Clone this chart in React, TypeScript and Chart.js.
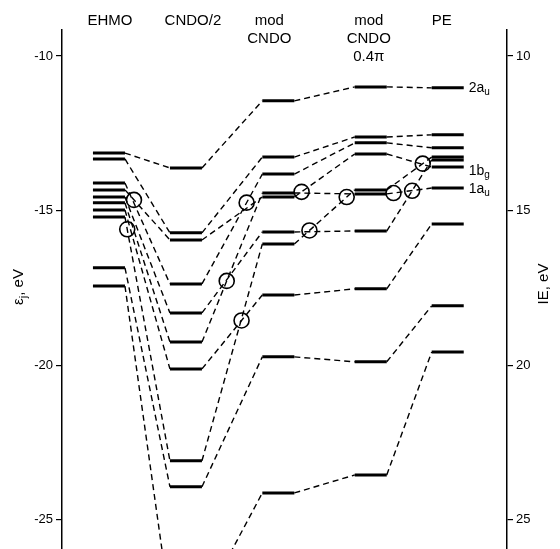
import React, { useEffect, useRef } from "react";
import { Chart, registerables } from "chart.js";

Chart.register(...registerables);

// ---- data (eV) ----
const COLUMN_LABELS: string[][] = [["EHMO"], ["CNDO/2"], ["mod", "CNDO"], ["mod", "CNDO", "0.4π"], ["PE"]];
const EHMO = [-13.14, -13.33, -14.11, -14.33, -14.56, -14.75, -14.98, -15.21, -16.85, -17.44];
const CNDO2 = [-13.62, -15.72, -15.95, -17.37, -18.31, -19.25, -20.12, -23.09, -23.93, -27.8];
const MOD_CNDO = [-11.45, -13.27, -13.82, -14.43, -14.56, -15.69, -16.08, -17.73, -19.73, -24.13];
const MOD_CNDO_04PI = [-11.0, -12.62, -12.81, -13.17, -14.33, -14.46, -15.66, -17.53, -19.89, -23.55];
const PE = [-11.03, -12.55, -12.97, -13.27, -13.36, -13.59, -14.27, -15.43, -18.08, -19.57];

// correlation links: for stage s, level i of column s -> level LINKS[s][i] of column s+1
const LINKS_EHMO_CNDO2 = [0, 1, 3, 2, 4, 5, 6, 7, 8, 9];
const LINKS_CNDO2_MOD = [0, 1, 4, 2, 5, 3, 7, 6, 8, 9];
const LINKS_MOD_MOD04 = [0, 1, 2, 5, 3, 6, 4, 7, 8, 9];
const LINKS_MOD04_PE = [0, 1, 2, 5, 3, 6, 4, 7, 8, 9];

// circled crossings: [stage, source level index, fraction along the link]
const CIRCLE_STAGE = [0, 0, 1, 1, 1, 2, 2, 2, 3, 3, 3];
const CIRCLE_LEVEL = [3, 7, 3, 5, 6, 4, 6, 6, 5, 6, 4];
const CIRCLE_FRAC = [0.2, 0.05, 0.74, 0.41, 0.656, 0.12, 0.25, 0.867, 0.15, 0.565, 0.8];

// PE level labels
const PE_LABEL_INDEX = [0, 5, 6];
const PE_LABEL_MAIN = ["2a", "1b", "1a"];
const PE_LABEL_SUB = ["u", "g", "u"];

const Y_TICKS_LEFT = [-10, -15, -20, -25];
const Y_TICKS_RIGHT = [10, 15, 20, 25];

// ---- layout ----
const COLUMNS = [EHMO, CNDO2, MOD_CNDO, MOD_CNDO_04PI, PE];
const LINKS = [LINKS_EHMO_CNDO2, LINKS_CNDO2_MOD, LINKS_MOD_MOD04, LINKS_MOD04_PE];
const COL_POS = [0, 1, 2.2, 3.4, 4.4];
const HALF = 0.208;
const X_MIN = -0.61;
const X_MAX = 5.17;
const Y_MIN = -25.94;
const Y_MAX = -9.16;
const LABEL_DX = [1, 7, -9, -2, -6];
const LABEL_DY = [0, 4, 1];
const FONT = '"Liberation Sans", Arial, sans-serif';

function drawParts(ctx: CanvasRenderingContext2D, parts: [string, boolean][], size: number, x: number, y: number, align: "left" | "center") {
  const subSize = Math.round(size * 0.72);
  let total = 0;
  for (const [t, sub] of parts) {
    ctx.font = `${sub ? subSize : size}px ${FONT}`;
    total += ctx.measureText(t).width;
  }
  let cx = align === "center" ? x - total / 2 : x;
  ctx.textAlign = "left";
  ctx.textBaseline = "middle";
  for (const [t, sub] of parts) {
    ctx.font = `${sub ? subSize : size}px ${FONT}`;
    ctx.fillText(t, cx, sub ? y + size * 0.3 : y);
    cx += ctx.measureText(t).width;
  }
}

const textPlugin = {
  id: "diagramText",
  afterDraw(chart: any) {
    const ctx: CanvasRenderingContext2D = chart.ctx;
    const xs = chart.scales.x;
    const ys = chart.scales.y;
    ctx.save();
    ctx.fillStyle = "#000";
    ctx.font = `15px ${FONT}`;
    ctx.textAlign = "center";
    ctx.textBaseline = "middle";
    COLUMN_LABELS.forEach((lines, c) => {
      const px = xs.getPixelForValue(COL_POS[c]) + LABEL_DX[c];
      lines.forEach((line, k) => {
        ctx.fillText(line, px, 21 + k * 18);
      });
    });
    PE_LABEL_INDEX.forEach((idx, k) => {
      const px = xs.getPixelForValue(COL_POS[4] + HALF) + 5;
      const py = ys.getPixelForValue(PE[idx]) + LABEL_DY[k];
      drawParts(ctx, [[PE_LABEL_MAIN[k], false], [PE_LABEL_SUB[k], true]], 14, px, py, "left");
    });
    ctx.save();
    ctx.translate(19, 287);
    ctx.rotate(-Math.PI / 2);
    drawParts(ctx, [["ε", false], ["j", true], [", eV", false]], 15, 0, 0, "center");
    ctx.restore();
    ctx.save();
    ctx.translate(544, 284);
    ctx.rotate(-Math.PI / 2);
    drawParts(ctx, [["IE, eV", false]], 15, 0, 0, "center");
    ctx.restore();
    ctx.restore();
  },
};

export default function App() {
  const ref = useRef<HTMLCanvasElement | null>(null);
  useEffect(() => {
    if (!ref.current) return;
    const datasets: any[] = [];
    COLUMNS.forEach((levels, c) => {
      levels.forEach((v) => {
        datasets.push({
          type: "line",
          data: [
            { x: COL_POS[c] - HALF, y: v },
            { x: COL_POS[c] + HALF, y: v },
          ],
          borderColor: "#000",
          borderWidth: 3,
          pointRadius: 0,
          borderCapStyle: "butt",
        });
      });
    });
    LINKS.forEach((links, s) => {
      links.forEach((j, i) => {
        datasets.push({
          type: "line",
          data: [
            { x: COL_POS[s] + HALF, y: COLUMNS[s][i] },
            { x: COL_POS[s + 1] - HALF, y: COLUMNS[s + 1][j] },
          ],
          borderColor: "#000",
          borderWidth: 1.4,
          borderDash: [6, 4],
          pointRadius: 0,
        });
      });
    });
    const circles = CIRCLE_STAGE.map((s, k) => {
      const i = CIRCLE_LEVEL[k];
      const t = CIRCLE_FRAC[k];
      const x1 = COL_POS[s] + HALF;
      const x2 = COL_POS[s + 1] - HALF;
      const y1 = COLUMNS[s][i];
      const y2 = COLUMNS[s + 1][LINKS[s][i]];
      return { x: x1 + t * (x2 - x1), y: y1 + t * (y2 - y1) };
    });
    datasets.push({
      type: "scatter",
      data: circles,
      pointRadius: 7.5,
      pointStyle: "circle",
      pointBackgroundColor: "rgba(0,0,0,0)",
      pointBorderColor: "#000",
      pointBorderWidth: 1.6,
      showLine: false,
    });

    const chart = new Chart(ref.current, {
      type: "line",
      data: { datasets },
      options: {
        animation: false,
        responsive: false,
        events: [],
        layout: { padding: { top: 30, bottom: 0, left: 0, right: 0 } },
        plugins: { legend: { display: false }, tooltip: { enabled: false } },
        scales: {
          x: { type: "linear", display: false, min: X_MIN, max: X_MAX },
          y: {
            type: "linear",
            position: "left",
            min: Y_MIN,
            max: Y_MAX,
            afterFit: (sc: any) => {
              sc.width = 62;
              sc.paddingTop = 0;
              sc.paddingBottom = 0;
            },
            afterBuildTicks: (sc: any) => {
              sc.ticks = Y_TICKS_LEFT.map((v) => ({ value: v }));
            },
            border: { display: true, color: "#000", width: 1.5 },
            grid: { display: true, drawOnChartArea: false, drawTicks: true, tickLength: 6, color: "#000", lineWidth: 1.2 },
            ticks: { color: "#000", font: { family: FONT, size: 13 }, padding: 3 },
          },
          y2: {
            type: "linear",
            position: "right",
            reverse: true,
            min: -Y_MAX,
            max: -Y_MIN,
            afterFit: (sc: any) => {
              sc.width = 53;
              sc.paddingTop = 0;
              sc.paddingBottom = 0;
            },
            afterBuildTicks: (sc: any) => {
              sc.ticks = Y_TICKS_RIGHT.map((v) => ({ value: v }));
            },
            border: { display: true, color: "#000", width: 1.5 },
            grid: { display: true, drawOnChartArea: false, drawTicks: true, tickLength: 6, color: "#000", lineWidth: 1.2 },
            ticks: { color: "#000", font: { family: FONT, size: 13 }, padding: 3 },
          },
        },
      } as any,
      plugins: [textPlugin],
    });
    return () => chart.destroy();
  }, []);
  return (
    <div style={{ position: "fixed", left: 0, top: 0, width: 560, height: 549, overflow: "hidden", background: "#fff" }}>
      <canvas ref={ref} width={560} height={558} style={{ display: "block" }} />
    </div>
  );
}
